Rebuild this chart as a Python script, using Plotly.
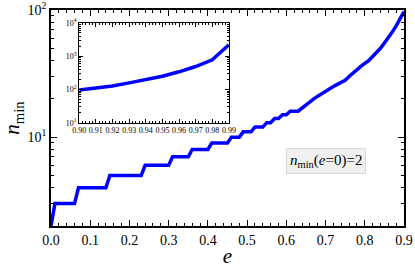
import plotly.graph_objects as go

# Main curve: n_min vs eccentricity e
e_main = [0.0, 0.01, 0.06, 0.07, 0.14, 0.15, 0.23, 0.24, 0.30, 0.31, 0.35, 0.36,
          0.40, 0.41, 0.45, 0.46, 0.48, 0.49, 0.51, 0.52, 0.54, 0.55, 0.56, 0.57,
          0.58, 0.59, 0.60, 0.61, 0.63, 0.64, 0.65, 0.66, 0.67, 0.68, 0.69, 0.70,
          0.71, 0.72, 0.73, 0.74, 0.75, 0.76, 0.77, 0.78, 0.79, 0.80, 0.81, 0.82,
          0.83, 0.84, 0.85, 0.86, 0.87, 0.88, 0.89, 0.90]
n_main = [2, 3, 3, 4, 4, 5, 5, 6, 6, 7, 7, 8,
          8, 9, 9, 10, 10, 11, 11, 12, 12, 13, 13, 14,
          14, 15, 15, 16, 16, 17, 18, 19, 20, 21, 22, 23,
          24, 25, 26, 27, 28, 30, 32, 34, 36, 38, 40, 43,
          46, 50, 55, 60, 67, 75, 85, 97]

# Inset curve
e_inset = [0.90, 0.91, 0.92, 0.93, 0.94, 0.95, 0.96, 0.97, 0.98, 0.99]
n_inset = [97, 110, 128, 158, 198, 250, 340, 490, 780, 2200]

x_ticks_main = [0.0, 0.1, 0.2, 0.3, 0.4, 0.5, 0.6, 0.7, 0.8, 0.9]
x_ticklabels_main = ["0.0", "0.1", "0.2", "0.3", "0.4", "0.5", "0.6", "0.7", "0.8", "0.9"]
y_ticks_main = [10, 100]
y_ticklabels_main = ["10<sup>1</sup>", "10<sup>2</sup>"]
x_ticks_inset = [0.90, 0.91, 0.92, 0.93, 0.94, 0.95, 0.96, 0.97, 0.98, 0.99]
x_ticklabels_inset = ["0.90", "0.91", "0.92", "0.93", "0.94", "0.95", "0.96", "0.97", "0.98", "0.99"]
y_ticks_inset = [10, 100, 1000, 10000]
y_ticklabels_inset = ["10<sup>1</sup>", "10<sup>2</sup>", "10<sup>3</sup>", "10<sup>4</sup>"]

minor_log = [m * 10 ** k for k in range(0, 4) for m in range(2, 10)]

FONT = "Liberation Serif"
BLUE = "#0000ff"

fig = go.Figure()
fig.add_trace(go.Scatter(x=e_main, y=n_main, mode="lines",
                         line=dict(color=BLUE, width=3.5), xaxis="x", yaxis="y",
                         showlegend=False))
fig.add_trace(go.Scatter(x=e_inset, y=n_inset, mode="lines",
                         line=dict(color=BLUE, width=3.5), xaxis="x2", yaxis="y2",
                         showlegend=False))

axis_common = dict(showline=True, linecolor="black", mirror="allticks", automargin=False,
                   ticks="inside", tickcolor="black", showgrid=False, zeroline=False)

fig.update_layout(
    width=415, height=269,
    margin=dict(l=51, r=11, t=10, b=43),
    paper_bgcolor="white", plot_bgcolor="white",
    font=dict(family=FONT, color="black"),
    xaxis=dict(**axis_common, range=[0, 0.9], linewidth=1.5,
               tickvals=x_ticks_main, ticktext=x_ticklabels_main,
               ticklen=6, tickwidth=1.2, tickfont=dict(size=14),
               minor=dict(dtick=0.02, ticks="inside", ticklen=3, tickcolor="black", tickwidth=1),
               title=dict(text="<i>e</i>", font=dict(size=21), standoff=2)),
    yaxis=dict(**axis_common, type="log", range=[0.301, 2.0], linewidth=1.5,
               tickvals=y_ticks_main, ticktext=y_ticklabels_main,
               ticklen=6, tickwidth=1.2, tickfont=dict(size=14),
               minor=dict(tickvals=minor_log, ticks="inside", ticklen=3, tickcolor="black", tickwidth=1),
               title=dict(text="<i>n</i><sub>min</sub>", font=dict(size=21), standoff=2)),
    xaxis2=dict(**axis_common, domain=[0.08, 0.504], anchor="y2", range=[0.90, 0.99],
                linewidth=1.2, tickvals=x_ticks_inset, ticktext=x_ticklabels_inset,
                ticklen=4, tickwidth=1, tickfont=dict(size=8),
                minor=dict(dtick=0.002, ticks="inside", ticklen=2, tickcolor="black", tickwidth=0.8)),
    yaxis2=dict(**axis_common, domain=[0.478, 0.94], anchor="x2", type="log", range=[1, 4],
                linewidth=1.2, tickvals=y_ticks_inset, ticktext=y_ticklabels_inset,
                ticklen=4, tickwidth=1, tickfont=dict(size=8),
                minor=dict(tickvals=minor_log, ticks="inside", ticklen=2, tickcolor="black", tickwidth=0.8)),
    annotations=[dict(
        xref="paper", yref="paper", x=0.779, y=0.299, xanchor="center", yanchor="middle",
        text="<i>n</i><sub>min</sub>(<i>e</i>=0)=2", showarrow=False,
        font=dict(size=15, family=FONT, color="black"),
        bgcolor="#f0f0f0", bordercolor="#d8d8d8", borderwidth=1, borderpad=3)],
)

fig.write_html("out.html", config={"displayModeBar": False},
               post_script="document.body.style.margin='0';")
